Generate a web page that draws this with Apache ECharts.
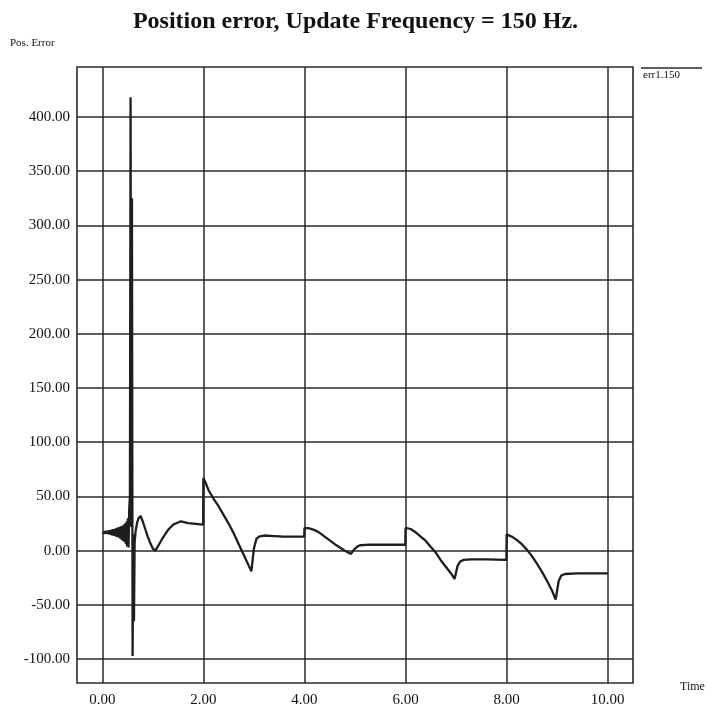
<!DOCTYPE html>
<html>
<head>
<meta charset="utf-8">
<script src="https://cdn.jsdelivr.net/npm/echarts@6/dist/echarts.min.js"></script>
<style>
  html, body { margin: 0; padding: 0; background: #ffffff; }
  #chart { width: 711px; height: 715px; }
</style>
</head>
<body>
<div id="chart"></div>
<script>
// Position error trace (err1.150), sampled time in seconds
const times = [
  0.000, 0.013, 0.027, 0.040, 0.053, 0.067, 0.080, 0.093, 0.107, 0.120,
  0.133, 0.147, 0.160, 0.173, 0.187, 0.200, 0.213, 0.227, 0.240, 0.253,
  0.267, 0.280, 0.293, 0.307, 0.320, 0.333, 0.347, 0.360, 0.373, 0.387,
  0.400, 0.413, 0.427, 0.440, 0.453, 0.467, 0.480, 0.493, 0.507, 0.520,
  0.533, 0.547, 0.560, 0.573, 0.587, 0.600, 0.613, 0.627, 0.640, 0.660,
  0.690, 0.720, 0.760, 0.800, 0.850, 0.900, 0.950, 1.000, 1.050, 1.100,
  1.150, 1.200, 1.300, 1.400, 1.500, 1.550, 1.600, 1.700, 1.800, 1.900,
  1.995, 2.000, 2.050, 2.100, 2.150, 2.200, 2.300, 2.400, 2.500, 2.600,
  2.700, 2.800, 2.900, 2.950, 3.000, 3.050, 3.100, 3.200, 3.400, 3.600,
  3.800, 3.995, 4.000, 4.100, 4.200, 4.300, 4.400, 4.500, 4.600, 4.700,
  4.800, 4.920, 4.980, 5.050, 5.100, 5.300, 5.600, 5.995, 6.000, 6.100,
  6.200, 6.300, 6.400, 6.500, 6.600, 6.700, 6.800, 6.900, 6.970, 7.030,
  7.080, 7.150, 7.300, 7.600, 7.995, 8.000, 8.100, 8.200, 8.300, 8.400,
  8.500, 8.600, 8.700, 8.800, 8.900, 8.970, 9.030, 9.080, 9.150, 9.400,
  9.700, 10.000
];

const posError = [
  17, 16, 18, 16, 18, 15.5, 18.5, 15.5, 18.5, 15,
  19, 15, 19, 14.5, 19.5, 14, 20, 14, 20, 13.5,
  20.5, 13, 21, 12.5, 21.5, 12, 22, 11, 22.5, 10,
  23, 9, 24, 8, 25, 6, 27, 4, 30, 3,
  38, 50, 418, 22, 325, -97, 15, -65, 8, 18,
  26, 30, 32, 27, 20, 13, 7, 2, 0, 4,
  8, 12, 19, 24, 26, 27, 26.5, 25.5, 25, 24.5,
  24, 67, 62, 56, 52, 48, 41, 33, 25, 16,
  6, -4, -14, -19, 2, 11, 13, 14, 13.5, 13,
  13, 13, 21, 20.5, 19, 16.5, 13, 9.5, 6, 3,
  0, -3, 1, 4, 5, 5.5, 5.5, 5.5, 21, 20,
  17, 13, 9, 3.5, -2, -9, -15, -21, -26, -14,
  -10, -8.5, -8, -8, -8.5, 15, 13, 10, 6, 1,
  -5, -12, -19.5, -28, -37, -45, -28, -23, -21.5, -21,
  -21, -21
];

// Tick positions shown on each axis
const xTicks = [0, 2, 4, 6, 8, 10];
const yTicks = [-100, -50, 0, 50, 100, 150, 200, 250, 300, 350, 400];

const seriesName = 'err1.150';
const chartTitle = 'Position error, Update Frequency = 150 Hz.';
const yName = 'Pos. Error';
const xName = 'Time';

const serif = '"Liberation Serif", "Times New Roman", serif';
const ink = '#2a2a2a';

const chart = echarts.init(document.getElementById('chart'), null, { renderer: 'canvas' });

const gridMarks = yTicks.map(v => ({ yAxis: v })).concat(xTicks.map(v => ({ xAxis: v })));

chart.setOption({
  backgroundColor: '#ffffff',
  animation: false,
  title: {
    text: chartTitle,
    left: 'center',
    top: 5,
    textStyle: { fontFamily: serif, fontWeight: 'bold', fontSize: 24, color: '#111' }
  },
  grid: {
    left: 77, right: 78, top: 67, bottom: 32,
    containLabel: false,
    outerBoundsMode: 'none',
    show: true, borderColor: ink, borderWidth: 1.6, backgroundColor: 'transparent'
  },
  xAxis: {
    type: 'value',
    min: -0.5, max: 10.5,
    axisLine: { show: false, onZero: false },
    axisTick: { show: false },
    splitLine: { show: false },
    axisLabel: {
      customValues: xTicks,
      formatter: v => v.toFixed(2),
      fontFamily: serif, fontSize: 15, color: '#111', margin: 10
    }
  },
  yAxis: {
    type: 'value',
    min: -122, max: 446,
    axisLine: { show: false, onZero: false },
    axisTick: { show: false },
    splitLine: { show: false },
    axisLabel: {
      customValues: yTicks,
      formatter: v => v.toFixed(2),
      fontFamily: serif, fontSize: 15, color: '#111', margin: 7
    }
  },
  series: [{
    name: seriesName,
    type: 'line',
    data: times.map((t, i) => [t, posError[i]]),
    showSymbol: false,
    symbol: 'none',
    lineStyle: { color: '#1e1e1e', width: 2.3 },
    z: 3,
    markLine: {
      silent: true,
      symbol: ['none', 'none'],
      label: { show: false },
      lineStyle: { color: ink, width: 1.5, type: 'solid' },
      emphasis: { disabled: true },
      data: gridMarks,
      z: 2
    }
  }],
  graphic: [
    {
      type: 'text',
      left: 10, top: 38,
      style: { text: yName, fontFamily: serif, fontSize: 11, fill: '#111' }
    },
    {
      type: 'text',
      left: 680, top: 681,
      style: { text: xName, fontFamily: serif, fontSize: 12, fill: '#111' }
    },
    {
      type: 'line',
      shape: { x1: 641, y1: 68, x2: 702, y2: 68 },
      style: { stroke: ink, lineWidth: 1.5 }
    },
    {
      type: 'text',
      left: 643, top: 70,
      style: { text: seriesName, fontFamily: serif, fontSize: 11, fill: '#111' }
    }
  ]
});
</script>
</body>
</html>
